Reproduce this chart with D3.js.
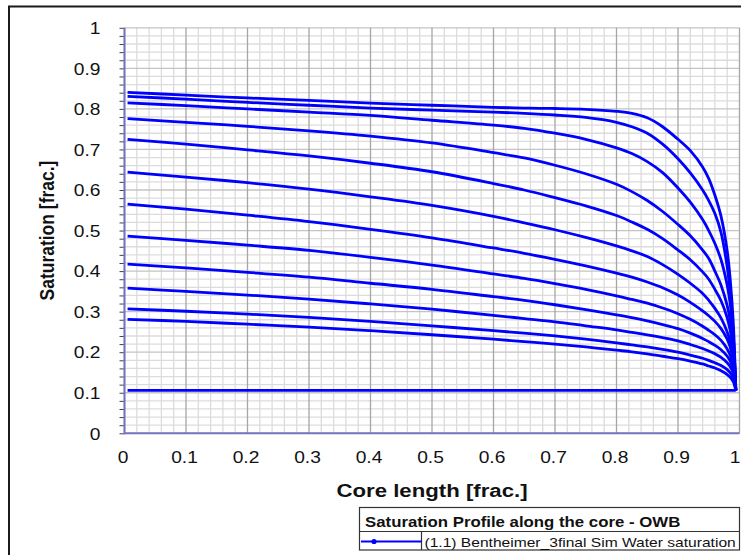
<!DOCTYPE html>
<html>
<head>
<meta charset="utf-8">
<script src="https://cdn.jsdelivr.net/npm/d3@7"></script>
<style>
  html, body { margin: 0; padding: 0; background: #fff; }
  svg { display: block; }
  text { font-family: "Liberation Sans", Arial, Helvetica, sans-serif; fill: #111; }
</style>
</head>
<body>
<svg id="chart" width="741" height="555"></svg>
<script>
// Position along the core (fraction of core length) where each profile is sampled
const positions = [0.005, 0.1, 0.2, 0.3, 0.4, 0.5, 0.6, 0.65, 0.7, 0.75, 0.8, 0.825, 0.85, 0.875,
                   0.9, 0.92, 0.94, 0.95, 0.96, 0.97, 0.98, 0.985, 0.99, 0.994];

// Water saturation profiles, one per time step (latest first)
const profile01 = [0.841, 0.834, 0.827, 0.821, 0.814, 0.809, 0.804, 0.802, 0.801, 0.799, 0.794, 0.789, 0.778, 0.756, 0.725, 0.697, 0.657, 0.628, 0.587, 0.535, 0.450, 0.378, 0.270, 0.106];
const profile02 = [0.831, 0.824, 0.816, 0.809, 0.802, 0.797, 0.792, 0.789, 0.785, 0.779, 0.767, 0.756, 0.740, 0.713, 0.677, 0.642, 0.600, 0.574, 0.542, 0.495, 0.410, 0.345, 0.240, 0.106];
const profile03 = [0.815, 0.808, 0.800, 0.792, 0.784, 0.772, 0.760, 0.752, 0.740, 0.725, 0.704, 0.690, 0.670, 0.643, 0.605, 0.570, 0.527, 0.500, 0.468, 0.428, 0.365, 0.318, 0.235, 0.106];
const profile04 = [0.776, 0.767, 0.757, 0.746, 0.733, 0.716, 0.692, 0.679, 0.661, 0.640, 0.614, 0.596, 0.574, 0.547, 0.515, 0.487, 0.452, 0.431, 0.400, 0.365, 0.315, 0.278, 0.215, 0.106];
const profile05 = [0.725, 0.713, 0.699, 0.684, 0.666, 0.645, 0.616, 0.600, 0.581, 0.561, 0.537, 0.521, 0.503, 0.480, 0.452, 0.428, 0.398, 0.380, 0.355, 0.327, 0.285, 0.253, 0.200, 0.106];
const profile06 = [0.644, 0.632, 0.618, 0.602, 0.583, 0.562, 0.535, 0.519, 0.502, 0.483, 0.462, 0.450, 0.436, 0.416, 0.392, 0.370, 0.345, 0.328, 0.308, 0.284, 0.250, 0.226, 0.188, 0.106];
const profile07 = [0.565, 0.553, 0.538, 0.522, 0.503, 0.482, 0.457, 0.444, 0.429, 0.413, 0.395, 0.385, 0.373, 0.359, 0.341, 0.323, 0.302, 0.290, 0.276, 0.258, 0.232, 0.212, 0.178, 0.106];
const profile08 = [0.486, 0.476, 0.464, 0.451, 0.434, 0.415, 0.393, 0.382, 0.369, 0.355, 0.339, 0.330, 0.321, 0.309, 0.295, 0.281, 0.264, 0.254, 0.243, 0.229, 0.208, 0.192, 0.165, 0.106];
const profile09 = [0.417, 0.408, 0.397, 0.385, 0.370, 0.355, 0.337, 0.328, 0.317, 0.305, 0.292, 0.285, 0.277, 0.268, 0.258, 0.247, 0.234, 0.226, 0.217, 0.206, 0.190, 0.178, 0.157, 0.106];
const profile10 = [0.358, 0.350, 0.341, 0.331, 0.319, 0.306, 0.291, 0.283, 0.275, 0.265, 0.255, 0.249, 0.243, 0.236, 0.228, 0.219, 0.209, 0.203, 0.196, 0.187, 0.174, 0.164, 0.147, 0.106];
const profile11 = [0.307, 0.301, 0.294, 0.286, 0.276, 0.265, 0.253, 0.247, 0.240, 0.232, 0.223, 0.218, 0.213, 0.207, 0.200, 0.193, 0.185, 0.180, 0.174, 0.167, 0.157, 0.149, 0.136, 0.106];
const profile12 = [0.281, 0.276, 0.269, 0.262, 0.253, 0.243, 0.232, 0.226, 0.220, 0.213, 0.205, 0.201, 0.196, 0.190, 0.184, 0.178, 0.171, 0.166, 0.161, 0.154, 0.145, 0.138, 0.127, 0.106];
const initial   = [0.106, 0.106, 0.106, 0.106, 0.106, 0.106, 0.106, 0.106, 0.106, 0.106, 0.106, 0.106, 0.106, 0.106, 0.106, 0.106, 0.106, 0.106, 0.106, 0.106, 0.106, 0.106, 0.106, 0.106];

const xTickValues = [0, 0.1, 0.2, 0.3, 0.4, 0.5, 0.6, 0.7, 0.8, 0.9, 1];
const yTickValues = [0, 0.1, 0.2, 0.3, 0.4, 0.5, 0.6, 0.7, 0.8, 0.9, 1];
const xTickLabels = ["0", "0.1", "0.2", "0.3", "0.4", "0.5", "0.6", "0.7", "0.8", "0.9", "1"];
const yTickLabels = ["0", "0.1", "0.2", "0.3", "0.4", "0.5", "0.6", "0.7", "0.8", "0.9", "1"];

const xTitle = "Core length [frac.]";
const yTitle = "Saturation [frac.]";
const legendTitle = "Saturation Profile along the core - OWB";
const seriesName = "(1.1) Bentheimer_3final Sim Water saturation";

const profiles = [profile01, profile02, profile03, profile04, profile05, profile06,
                  profile07, profile08, profile09, profile10, profile11, profile12, initial];

// ---- layout ----
const svg = d3.select("#chart");
const plotLeft = 124.5, plotRight = 739.5, plotTop = 27.8, plotBottom = 433.3;
const stretch = 1.2;   // glyphs are drawn slightly wide

const x = d3.scaleLinear().domain([0, 1]).range([plotLeft, plotRight]);
const y = d3.scaleLinear().domain([0, 1]).range([plotBottom, plotTop]);

svg.append("rect").attr("width", 741).attr("height", 555).attr("fill", "#fff");

// outer frame
svg.append("rect")
  .attr("x", 9).attr("y", 6.5).attr("width", 900).attr("height", 700)
  .attr("fill", "none").attr("stroke", "#1a1a1a").attr("stroke-width", 2);

// ---- grid ----
const minor = d3.range(0, 51).map(i => i / 50);
const minorOnly = minor.filter(v => Math.round(v * 50) % 5 !== 0);
const grid = svg.append("g");
grid.append("g").selectAll("line").data(minorOnly).join("line")
  .attr("x1", d => x(d)).attr("x2", d => x(d)).attr("y1", plotTop).attr("y2", plotBottom)
  .attr("stroke", "#dcdcdc").attr("stroke-width", 1.3);
grid.append("g").selectAll("line").data(minorOnly).join("line")
  .attr("x1", plotLeft).attr("x2", plotRight).attr("y1", d => y(d)).attr("y2", d => y(d))
  .attr("stroke", "#dcdcdc").attr("stroke-width", 1.3);
grid.append("g").selectAll("line").data(yTickValues).join("line")
  .attr("x1", plotLeft).attr("x2", plotRight).attr("y1", d => y(d)).attr("y2", d => y(d))
  .attr("stroke", "#c4c4c4").attr("stroke-width", 1.3);
grid.append("g").selectAll("line").data(xTickValues).join("line")
  .attr("x1", d => x(d)).attr("x2", d => x(d)).attr("y1", plotTop).attr("y2", plotBottom)
  .attr("stroke", "#a6a6a6").attr("stroke-width", 1.3);

// ---- curves ----
const line = d3.line()
  .x((d, i) => x(positions[i]))
  .y(d => y(d))
  .curve(d3.curveCatmullRom.alpha(0.5));

svg.append("g").selectAll("path").data(profiles).join("path")
  .attr("d", line)
  .attr("fill", "none")
  .attr("stroke", "#0000ff")
  .attr("stroke-width", 2.8)
  .attr("stroke-linejoin", "round");

// ---- axes ----
const axisColor = "#7474c0";

// minor ticks on the saturation axis
const yMinorAxis = d3.axisLeft(y).tickValues(minor).tickSize(5).tickFormat("");
const gyMinor = svg.append("g").attr("transform", `translate(${plotLeft},0)`).call(yMinorAxis);
gyMinor.select(".domain").remove();
gyMinor.selectAll(".tick line").attr("stroke", "#444").attr("stroke-width", 1);

const yAxis = d3.axisLeft(y).tickValues(yTickValues).tickSize(0)
  .tickFormat((d, i) => yTickLabels[i]);
const gy = svg.append("g").attr("transform", `translate(${plotLeft},0)`).call(yAxis);
gy.select(".domain").remove();
gy.selectAll(".tick text")
  .attr("x", 0).attr("dy", "0.36em")
  .attr("transform", `translate(-24,0) scale(${stretch},1)`)
  .attr("text-anchor", "end")
  .style("font-size", "16px").style("fill", "#111");

const xAxis = d3.axisBottom(x).tickValues(xTickValues).tickSize(0)
  .tickFormat((d, i) => xTickLabels[i]);
const gx = svg.append("g").attr("transform", `translate(0,${plotBottom})`).call(xAxis);
gx.select(".domain").remove();
gx.selectAll(".tick text")
  .attr("y", 0).attr("dy", 0)
  .attr("transform", (d, i) => `translate(${i === xTickValues.length - 1 ? -5 : -2},30) scale(${stretch},1)`)
  .style("font-size", "16px").style("fill", "#111");

// axis lines
svg.append("line").attr("x1", plotLeft).attr("x2", plotLeft).attr("y1", plotTop).attr("y2", plotBottom + 1)
  .attr("stroke", axisColor).attr("stroke-width", 2);
svg.append("line").attr("x1", plotLeft).attr("x2", plotRight).attr("y1", plotBottom).attr("y2", plotBottom)
  .attr("stroke", axisColor).attr("stroke-width", 2);

// ---- titles ----
svg.append("text")
  .attr("transform", `translate(${(plotLeft + plotRight) / 2},497) scale(${stretch},1)`)
  .attr("text-anchor", "middle")
  .style("font-size", "18.5px").style("font-weight", "bold")
  .text(xTitle);

svg.append("text")
  .attr("transform", `translate(53.5,${(plotTop + plotBottom) / 2}) rotate(-90) scale(1,${stretch})`)
  .attr("text-anchor", "middle")
  .style("font-size", "17.5px").style("font-weight", "bold")
  .text(yTitle);

// ---- legend ----
const lg = svg.append("g");
const lx = 359.5, lw = 380, ly = 507.5, row1 = 24, row2 = 18.5;
lg.append("rect").attr("x", lx).attr("y", ly).attr("width", lw).attr("height", row1 + row2)
  .attr("fill", "#fff").attr("stroke", "#333").attr("stroke-width", 1.2);
lg.append("line").attr("x1", lx).attr("x2", lx + lw).attr("y1", ly + row1).attr("y2", ly + row1)
  .attr("stroke", "#333").attr("stroke-width", 1.2);
lg.append("line").attr("x1", 421.5).attr("x2", 421.5).attr("y1", ly + row1).attr("y2", ly + row1 + row2)
  .attr("stroke", "#333").attr("stroke-width", 1.2);
lg.append("text")
  .attr("transform", `translate(365,526.5) scale(${stretch},1)`)
  .style("font-size", "14px").style("font-weight", "bold")
  .text(legendTitle);
lg.append("line").attr("x1", 361).attr("x2", 421.5).attr("y1", 541.5).attr("y2", 541.5)
  .attr("stroke", "#0000ff").attr("stroke-width", 2.2);
lg.append("circle").attr("cx", 374).attr("cy", 541.5).attr("r", 2.6).attr("fill", "#0000ff");
lg.append("text")
  .attr("transform", `translate(424.5,546.5) scale(${stretch},1)`)
  .style("font-size", "13px")
  .text(seriesName);
</script>
</body>
</html>
